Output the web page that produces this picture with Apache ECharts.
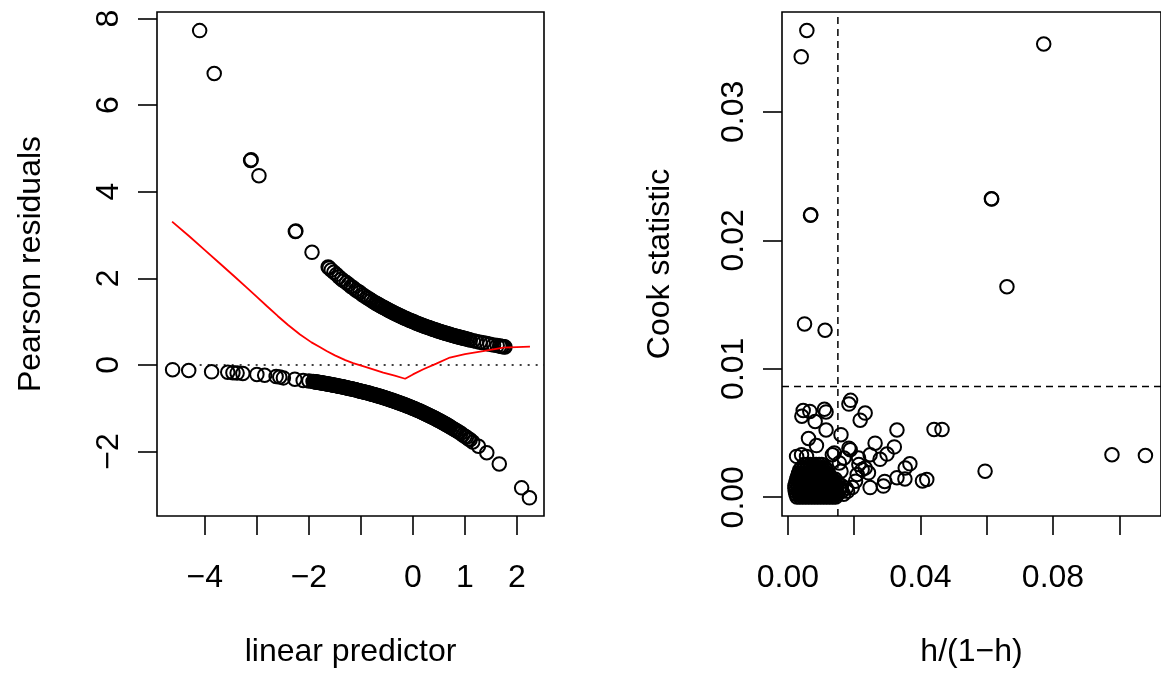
<!DOCTYPE html>
<html>
<head>
<meta charset="utf-8">
<script src="https://cdn.jsdelivr.net/npm/echarts@6/dist/echarts.min.js"></script>
<style>
html,body{margin:0;padding:0;background:#fff;}
#chart{width:1161px;height:673px;}
</style>
</head>
<body>
<div id="chart"></div>
<script>
// ---------------- DATA ----------------
// Left panel: linear predictor (x) vs Pearson residuals (y)
const lpTicks = [-4, -3, -2, -1, 0, 1, 2];
const lpLabels = [-4, -2, 0, 1, 2];
const residTicks = [-2, 0, 2, 4, 6, 8];

// observations with response 1 (upper band): linear predictor / Pearson residual
const upperLP = [
  -4.10, -3.82, -3.12, -3.11, -2.96, -2.26, -2.25, -1.94,
  -1.63, -1.61, -1.57, -1.52, -1.47, -1.42, -1.37, -1.33, -1.28, -1.24, -1.19, -1.15,
  -1.10, -1.06, -1.02, -0.97, -0.93, -0.88, -0.84, -0.80, -0.76, -0.72,
  -0.700, -0.675, -0.650, -0.625, -0.600, -0.575, -0.550, -0.525, -0.500, -0.475,
  -0.450, -0.425, -0.400, -0.375, -0.350, -0.325, -0.300, -0.275, -0.250, -0.225,
  -0.200, -0.175, -0.150, -0.125, -0.100, -0.075, -0.050, -0.025, 0.000, 0.025,
  0.050, 0.075, 0.100, 0.125, 0.150, 0.175, 0.200, 0.225, 0.250, 0.275,
  0.300, 0.325, 0.350, 0.375, 0.400, 0.425, 0.450, 0.475, 0.500, 0.525,
  0.550, 0.575, 0.600, 0.625, 0.650, 0.675, 0.700, 0.725, 0.750, 0.775,
  0.800, 0.825, 0.850, 0.875, 0.900, 0.925, 0.950, 0.975, 1.000,
  1.03, 1.07, 1.10, 1.16, 1.22, 1.29, 1.35, 1.42, 1.48, 1.55, 1.62, 1.67, 1.70, 1.72, 1.75, 1.77
];
const upperRes = [
  7.72, 6.73, 4.72, 4.74, 4.37, 3.08, 3.09, 2.60,
  2.26, 2.24, 2.19, 2.14, 2.09, 2.03, 1.98, 1.94, 1.90, 1.86, 1.81, 1.78,
  1.73, 1.70, 1.67, 1.62, 1.59, 1.55, 1.52, 1.49, 1.46, 1.43,
  1.419, 1.401, 1.384, 1.367, 1.350, 1.333, 1.317, 1.300, 1.284, 1.268,
  1.252, 1.237, 1.221, 1.206, 1.191, 1.176, 1.162, 1.147, 1.133, 1.119,
  1.105, 1.091, 1.078, 1.064, 1.051, 1.038, 1.025, 1.013, 1.000, 0.988,
  0.975, 0.963, 0.951, 0.939, 0.928, 0.916, 0.905, 0.894, 0.882, 0.872,
  0.861, 0.850, 0.839, 0.829, 0.819, 0.809, 0.799, 0.789, 0.779, 0.769,
  0.760, 0.750, 0.741, 0.732, 0.723, 0.714, 0.705, 0.696, 0.687, 0.679,
  0.670, 0.662, 0.654, 0.646, 0.638, 0.630, 0.622, 0.614, 0.607,
  0.600, 0.585, 0.577, 0.560, 0.543, 0.525, 0.509, 0.492, 0.477, 0.461, 0.445, 0.434, 0.427, 0.423, 0.417, 0.413
];

// observations with response 0 (lower band)
const lowerLP = [
  -4.62, -4.31, -3.87, -3.56, -3.46, -3.38, -3.27, -3.00, -2.85, -2.63, -2.56, -2.49,
  -2.27, -2.11, -2.00,
  -1.92, -1.90, -1.88, -1.86, -1.84, -1.82, -1.80, -1.78, -1.76, -1.74,
  -1.72, -1.70, -1.68, -1.66, -1.64, -1.62, -1.60, -1.58, -1.56, -1.54,
  -1.52, -1.50, -1.48, -1.46, -1.44, -1.42, -1.40, -1.38, -1.36, -1.34,
  -1.32, -1.30, -1.28, -1.26, -1.24, -1.22, -1.20, -1.18, -1.16, -1.14,
  -1.12, -1.10, -1.08, -1.06, -1.04, -1.02, -1.00, -0.98, -0.96, -0.94,
  -0.92, -0.90, -0.88, -0.86, -0.84, -0.82, -0.80, -0.78, -0.76, -0.74,
  -0.72, -0.70, -0.68, -0.66, -0.64, -0.62, -0.60, -0.58, -0.56, -0.54,
  -0.52, -0.50, -0.48, -0.46, -0.44, -0.42, -0.40, -0.38, -0.36, -0.34,
  -0.32, -0.30, -0.28, -0.26, -0.24, -0.22, -0.20, -0.18, -0.16, -0.14,
  -0.12, -0.10, -0.08, -0.06, -0.04, -0.02, 0.00, 0.02, 0.04, 0.06,
  0.08, 0.10, 0.12, 0.14, 0.16, 0.18, 0.20, 0.22, 0.24, 0.26,
  0.28, 0.30, 0.32, 0.34, 0.36, 0.38, 0.40, 0.42, 0.44, 0.46,
  0.48, 0.50, 0.52, 0.54, 0.56, 0.58, 0.60, 0.62, 0.64, 0.66,
  0.68, 0.70, 0.72,
  0.76, 0.80, 0.84, 0.88, 0.92, 0.96, 1.00, 1.03, 1.07, 1.10, 1.15, 1.26, 1.42, 1.66, 2.09, 2.24
];
const lowerRes = [
  -0.11, -0.13, -0.16, -0.17, -0.18, -0.19, -0.20, -0.22, -0.24, -0.27, -0.28, -0.30,
  -0.33, -0.36, -0.37,
  -0.383, -0.387, -0.391, -0.395, -0.399, -0.403, -0.407, -0.411, -0.415, -0.419,
  -0.423, -0.427, -0.432, -0.436, -0.440, -0.445, -0.449, -0.454, -0.458, -0.463,
  -0.468, -0.472, -0.477, -0.482, -0.487, -0.492, -0.497, -0.502, -0.507, -0.512,
  -0.517, -0.522, -0.527, -0.533, -0.538, -0.543, -0.549, -0.554, -0.560, -0.566,
  -0.571, -0.577, -0.583, -0.589, -0.595, -0.601, -0.607, -0.613, -0.619, -0.625,
  -0.631, -0.638, -0.644, -0.651, -0.657, -0.664, -0.670, -0.677, -0.684, -0.691,
  -0.698, -0.705, -0.712, -0.719, -0.726, -0.733, -0.741, -0.748, -0.756, -0.763,
  -0.771, -0.779, -0.787, -0.795, -0.803, -0.811, -0.819, -0.827, -0.835, -0.844,
  -0.852, -0.861, -0.869, -0.878, -0.887, -0.896, -0.905, -0.914, -0.923, -0.932,
  -0.942, -0.951, -0.961, -0.970, -0.980, -0.990, -1.000, -1.010, -1.020, -1.031,
  -1.041, -1.051, -1.062, -1.073, -1.083, -1.094, -1.105, -1.116, -1.127, -1.139,
  -1.150, -1.162, -1.174, -1.185, -1.197, -1.209, -1.221, -1.234, -1.246, -1.259,
  -1.271, -1.284, -1.297, -1.310, -1.323, -1.336, -1.350, -1.363, -1.377, -1.391,
  -1.405, -1.419, -1.433,
  -1.462, -1.492, -1.52, -1.55, -1.58, -1.62, -1.65, -1.67, -1.71, -1.73, -1.78, -1.88, -2.03, -2.29, -2.84, -3.07
];

// red smoother curve
const smoothLP = [
  -4.63, -4.30, -4.00, -3.70, -3.42, -3.20, -3.00, -2.81, -2.60, -2.40, -2.17, -1.95, -1.80,
  -1.66, -1.50, -1.30, -1.15, -0.90, -0.57, -0.35, -0.15, 0.00, 0.20, 0.45, 0.71, 1.00, 1.35, 1.74, 2.25
];
const smoothRes = [
  3.31, 2.97, 2.65, 2.33, 2.03, 1.79, 1.57, 1.36, 1.13, 0.92, 0.70, 0.52, 0.42,
  0.32, 0.22, 0.11, 0.04, -0.05, -0.18, -0.25, -0.32, -0.22, -0.10, 0.03, 0.17, 0.25, 0.32, 0.40, 0.42
];
const zeroLineLP = [-4.10, 2.52];

// Right panel: h/(1-h) (x) vs Cook statistic (y)
const hTicks = [0, 0.02, 0.04, 0.06, 0.08, 0.10];
const hLabels = [0, 0.04, 0.08];
const cookTicks = [0, 0.01, 0.02, 0.03];
const hThreshold = 0.01507;
const cookThreshold = 0.00862;

// isolated points [h/(1-h), Cook]
const cookSparse = [
  [0.0057, 0.03633], [0.0040, 0.03428], [0.0772, 0.03528], [0.0068, 0.02195], [0.0069, 0.02198],
  [0.0614, 0.02323], [0.0615, 0.02321], [0.0661, 0.01638], [0.0050, 0.01349], [0.0112, 0.01300],
  [0.0189, 0.00754], [0.0184, 0.00725], [0.0233, 0.00655], [0.0218, 0.00600], [0.0046, 0.00675],
  [0.0066, 0.00668], [0.0110, 0.00685], [0.0115, 0.00664], [0.0042, 0.00630], [0.0082, 0.00590],
  [0.0115, 0.00523], [0.0160, 0.00487], [0.0062, 0.00457], [0.0086, 0.00402], [0.0329, 0.00523],
  [0.0441, 0.00528], [0.0465, 0.00528], [0.0263, 0.00421], [0.0321, 0.00392], [0.0188, 0.00369],
  [0.0248, 0.00331], [0.0278, 0.00295], [0.0299, 0.00336], [0.0978, 0.00331], [0.1079, 0.00325],
  [0.0595, 0.00203], [0.0368, 0.00260], [0.0354, 0.00228], [0.0406, 0.00127], [0.0419, 0.00138],
  [0.0329, 0.00152], [0.0353, 0.00142], [0.0288, 0.00087], [0.0292, 0.00123], [0.0248, 0.00075],
  [0.0233, 0.00228], [0.0243, 0.00190], [0.0213, 0.00305], [0.0134, 0.00331], [0.0140, 0.00344],
  [0.0184, 0.00382], [0.0041, 0.00331], [0.0056, 0.00318], [0.0026, 0.00318], [0.0214, 0.00254],
  [0.0224, 0.00215], [0.0209, 0.00177], [0.0204, 0.00125], [0.0194, 0.00075], [0.0169, 0.00305],
  [0.0155, 0.00267], [0.0160, 0.00202]
];

// dense cluster near the origin: one Cook level per row, h/(1-h) values of that row
const clusterCook = [0.00254, 0.00230, 0.00210, 0.00185, 0.00160, 0.00140, 0.00115, 0.00090, 0.00070, 0.00046, 0.00023, 0.00002];
const clusterH = [
  [0.0049, 0.0058, 0.0067, 0.0076, 0.0085, 0.0094, 0.0102],
  [0.0041, 0.0050, 0.0059, 0.0068, 0.0077, 0.0086, 0.0095, 0.0104, 0.0112],
  [0.0035, 0.0044, 0.0053, 0.0062, 0.0071, 0.0080, 0.0089, 0.0098, 0.0107, 0.0116],
  [0.0032, 0.0041, 0.0050, 0.0059, 0.0068, 0.0077, 0.0086, 0.0095, 0.0104, 0.0113, 0.0122],
  [0.0029, 0.0038, 0.0047, 0.0056, 0.0065, 0.0074, 0.0083, 0.0092, 0.0101, 0.0110, 0.0119, 0.0128],
  [0.0026, 0.0035, 0.0044, 0.0053, 0.0062, 0.0071, 0.0080, 0.0089, 0.0098, 0.0107, 0.0116, 0.0125, 0.0134, 0.0143],
  [0.0024, 0.0033, 0.0042, 0.0051, 0.0060, 0.0069, 0.0078, 0.0087, 0.0096, 0.0105, 0.0114, 0.0123, 0.0132, 0.0141, 0.0150],
  [0.0021, 0.0030, 0.0039, 0.0048, 0.0057, 0.0066, 0.0075, 0.0084, 0.0093, 0.0102, 0.0111, 0.0120, 0.0129, 0.0138, 0.0147, 0.0162],
  [0.0021, 0.0030, 0.0039, 0.0048, 0.0057, 0.0066, 0.0075, 0.0084, 0.0093, 0.0102, 0.0111, 0.0120, 0.0129, 0.0138, 0.0147, 0.0160, 0.0176],
  [0.0022, 0.0031, 0.0040, 0.0049, 0.0058, 0.0067, 0.0076, 0.0085, 0.0094, 0.0103, 0.0112, 0.0121, 0.0130, 0.0139, 0.0148, 0.0163, 0.0180],
  [0.0024, 0.0033, 0.0042, 0.0051, 0.0060, 0.0069, 0.0078, 0.0087, 0.0096, 0.0105, 0.0114, 0.0123, 0.0132, 0.0141, 0.0150, 0.0168],
  [0.0027, 0.0036, 0.0045, 0.0054, 0.0063, 0.0072, 0.0081, 0.0090, 0.0099, 0.0108, 0.0117, 0.0126, 0.0135, 0.0144]
];

// ---------------- CHART ----------------
const FONT = "'Liberation Sans', Arial, Helvetica, sans-serif";
const FS = 32;
const LP_RANGE = [-4.92, 2.52], RES_RANGE = [-3.49, 8.15];
const H_RANGE = [-0.0018, 0.1126], COOK_RANGE = [-0.00146, 0.03777];

const zip = (xs, ys) => xs.map((x, i) => [x, ys[i]]);
const fmtMinus = v => String(v).replace('-', '\u2212');
const fmt2 = v => Number(v).toFixed(2);

const clusterPoints = [];
clusterCook.forEach((c, i) => clusterH[i].forEach(h => clusterPoints.push([h, c])));

function xAxisCfg(idx, range, ticks, labels, fmt, name) {
  return {
    type: 'value', gridIndex: idx, min: range[0], max: range[1],
    name: name, nameLocation: 'middle', nameGap: 120,
    nameTextStyle: {color: '#000', fontSize: FS, fontFamily: FONT},
    axisLine: {show: false, onZero: false},
    splitLine: {show: false},
    axisTick: {show: true, customValues: ticks, length: 19, lineStyle: {color: '#000', width: 1.6}},
    axisLabel: {show: true, customValues: labels, formatter: fmt, margin: 46,
      color: '#000', fontSize: FS, fontFamily: FONT}
  };
}
function yAxisCfg(idx, range, ticks, fmt, name, gap) {
  return {
    type: 'value', gridIndex: idx, min: range[0], max: range[1],
    name: name, nameLocation: 'middle', nameGap: gap, nameRotate: 90,
    nameTextStyle: {color: '#000', fontSize: FS, fontFamily: FONT},
    axisLine: {show: false, onZero: false},
    splitLine: {show: false},
    axisTick: {show: true, customValues: ticks, length: 19, lineStyle: {color: '#000', width: 1.6}},
    axisLabel: {show: true, customValues: ticks, formatter: fmt, rotate: 90, margin: 32,
      color: '#000', fontSize: FS, fontFamily: FONT}
  };
}

const circleStyle = {color: 'rgba(0,0,0,0)', borderColor: '#000', borderWidth: 2, opacity: 1};
const refLine = (xi, data, dash) => ({
  type: 'line', xAxisIndex: xi, yAxisIndex: xi, data: data,
  showSymbol: false, symbol: 'none', silent: true, z: 1,
  lineStyle: {color: '#000', width: 1.5, type: dash}
});

const option = {
  animation: false,
  backgroundColor: '#fff',
  grid: [
    {left: 157, top: 12, width: 387, height: 510, show: true, borderColor: '#000', borderWidth: 1.6, backgroundColor: 'transparent'},
    {left: 782, top: 12, width: 387, height: 510, show: true, borderColor: '#000', borderWidth: 1.6, backgroundColor: 'transparent'}
  ],
  xAxis: [
    xAxisCfg(0, LP_RANGE, lpTicks, lpLabels, fmtMinus, 'linear predictor'),
    xAxisCfg(1, H_RANGE, hTicks, hLabels, fmt2, 'h/(1\u2212h)')
  ],
  yAxis: [
    yAxisCfg(0, RES_RANGE, residTicks, fmtMinus, 'Pearson residuals', 110),
    yAxisCfg(1, COOK_RANGE, cookTicks, fmt2, 'Cook statistic', 106)
  ],
  series: [
    refLine(0, zeroLineLP.map(x => [x, 0]), [2, 6]),
    {
      type: 'scatter', xAxisIndex: 0, yAxisIndex: 0,
      data: zip(upperLP, upperRes).concat(zip(lowerLP, lowerRes)),
      symbol: 'circle', symbolSize: 13.5, itemStyle: circleStyle, z: 2, large: false
    },
    {
      type: 'line', xAxisIndex: 0, yAxisIndex: 0, data: zip(smoothLP, smoothRes),
      showSymbol: false, symbol: 'none', smooth: false, silent: true, z: 3,
      lineStyle: {color: '#ff0000', width: 1.8}
    },
    refLine(1, [[hThreshold, COOK_RANGE[0]], [hThreshold, COOK_RANGE[1]]], [7, 5]),
    refLine(1, [[H_RANGE[0], cookThreshold], [H_RANGE[1], cookThreshold]], [7, 5]),
    {
      type: 'scatter', xAxisIndex: 1, yAxisIndex: 1, data: clusterPoints.concat(cookSparse),
      symbol: 'circle', symbolSize: 13.5, itemStyle: circleStyle, z: 2, large: false
    }
  ]
};

const chart = echarts.init(document.getElementById('chart'), null, {renderer: 'canvas'});
chart.setOption(option);
</script>
</body>
</html>
